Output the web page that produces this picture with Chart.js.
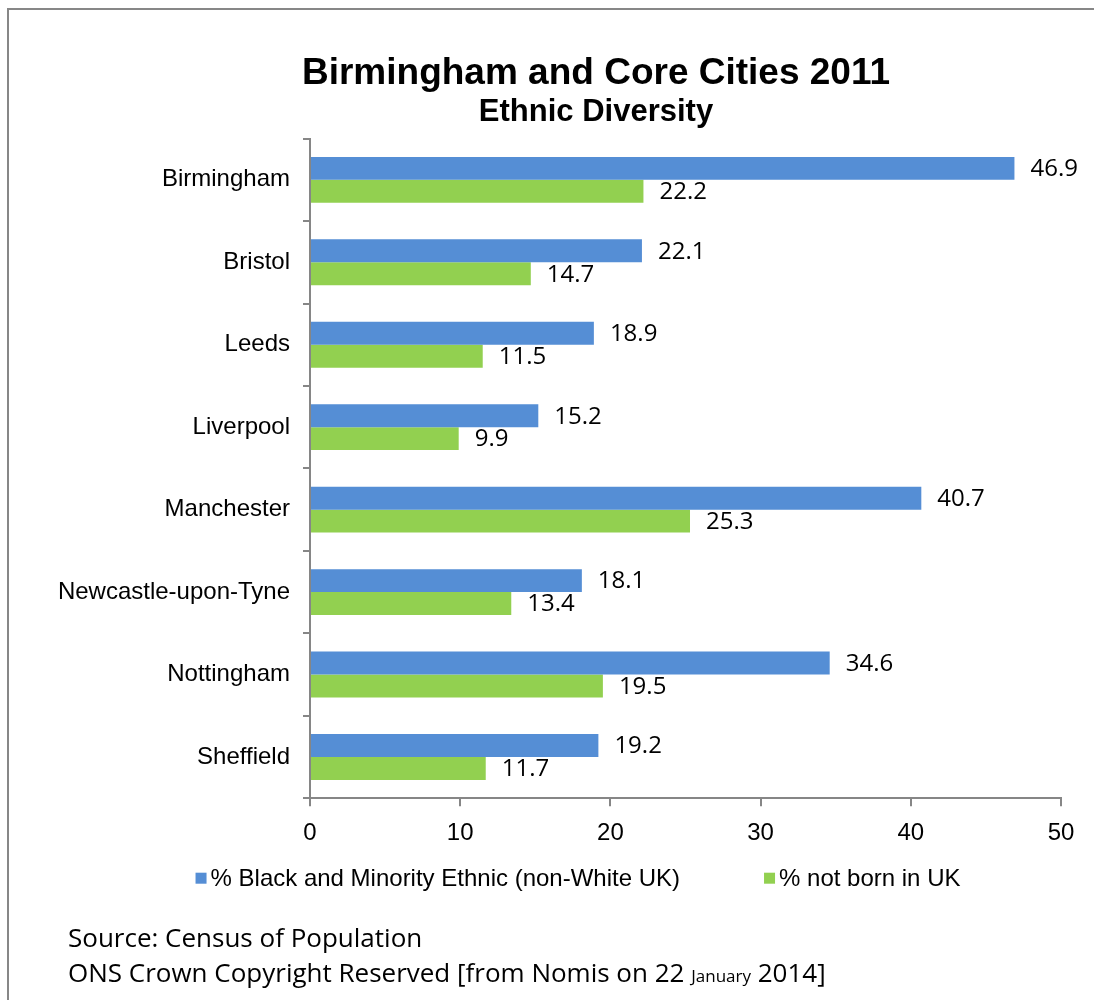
<!DOCTYPE html>
<html>
<head>
<meta charset="utf-8">
<script src="https://cdn.jsdelivr.net/npm/chart.js@4.4.1/dist/chart.umd.min.js"></script>
<style>
  html, body { margin: 0; padding: 0; background: #fff; }
  body { width: 1094px; height: 1000px; position: relative; overflow: hidden; }
  #frame { position: absolute; left: 7px; top: 8px; width: 1200px; height: 1200px;
           border-top: 2px solid #878787; border-left: 2px solid #878787; }
  #wrap { position: absolute; left: 0; top: 0; width: 1094px; height: 1000px; }
  .src { position: absolute; left: 68px; font-family: "Open Sans", "Noto Sans", sans-serif;
         font-size: 26px; color: #000; white-space: nowrap; line-height: 30px; }
  .src small { font-size: 17px; }
</style>
</head>
<body>
<div id="frame"></div>
<div id="wrap"><canvas id="c" width="1094" height="1000"></canvas></div>
<div class="src" style="top:922px;">Source: Census of Population</div>
<div class="src" style="top:957px;">ONS Crown Copyright Reserved [from Nomis on 22 <small>January</small> 2014]</div>
<script>
const categories = ["Birmingham", "Bristol", "Leeds", "Liverpool", "Manchester", "Newcastle-upon-Tyne", "Nottingham", "Sheffield"];
const bmeValues = [46.9, 22.1, 18.9, 15.2, 40.7, 18.1, 34.6, 19.2];
const notBornUKValues = [22.2, 14.7, 11.5, 9.9, 25.3, 13.4, 19.5, 11.7];
const seriesLabels = ["% Black and Minority Ethnic (non-White UK)", "% not born in UK"];
const xTicks = [0, 10, 20, 30, 40, 50];
const titleText = "Birmingham and Core Cities 2011";
const subtitleText = "Ethnic Diversity";

const AXIS = '#868686';
const SANS = '"Liberation Sans", Arial, sans-serif';

// let long category labels extend left of the axis box (avoid clipping)
const widenLabelArea = {
  id: 'widenLabelArea',
  afterLayout(chart) {
    chart.scales.y.left = 0;
  }
};

const valueLabels = {
  id: 'valueLabels',
  afterDatasetsDraw(chart) {
    const ctx = chart.ctx;
    ctx.save();
    ctx.font = '24px "Open Sans", "Noto Sans", sans-serif';
    ctx.fillStyle = '#000';
    ctx.textAlign = 'left';
    ctx.textBaseline = 'middle';
    chart.data.datasets.forEach((ds, di) => {
      const meta = chart.getDatasetMeta(di);
      meta.data.forEach((el, i) => {
        ctx.fillText(ds.data[i].toFixed(1), el.x + 16, el.y + 1);
      });
    });
    ctx.restore();
  }
};

const customLegend = {
  id: 'customLegend',
  afterDraw(chart, args, opts) {
    const ctx = chart.ctx;
    ctx.save();
    ctx.font = '24px ' + SANS;
    ctx.textBaseline = 'middle';
    ctx.textAlign = 'left';
    const items = chart.data.datasets.map(ds => ({ text: ds.label, color: ds.backgroundColor }));
    const widths = items.map(it => opts.box + opts.gap + ctx.measureText(it.text).width);
    const total = widths.reduce((a, b) => a + b, 0) + opts.spacing * (items.length - 1);
    let x = opts.centerX - total / 2;
    const y = chart.chartArea.bottom + opts.offsetY;
    items.forEach((it, i) => {
      ctx.fillStyle = it.color;
      ctx.fillRect(x, y - opts.box / 2, opts.box, opts.box);
      ctx.fillStyle = '#000';
      ctx.fillText(it.text, x + opts.box + opts.gap, y + 1);
      x += widths[i] + opts.spacing;
    });
    ctx.restore();
  }
};

new Chart(document.getElementById('c'), {
  type: 'bar',
  data: {
    labels: categories,
    datasets: [
      { label: seriesLabels[0], data: bmeValues, backgroundColor: '#558ED5' },
      { label: seriesLabels[1], data: notBornUKValues, backgroundColor: '#92D050' }
    ]
  },
  options: {
    indexAxis: 'y',
    responsive: false,
    animation: false,
    devicePixelRatio: 1,
    layout: { padding: { left: 131, right: 33, top: 20, bottom: 139 } },
    datasets: { bar: { categoryPercentage: 0.556, barPercentage: 1.0 } },
    scales: {
      x: {
        min: 0, max: 50,
        afterBuildTicks(scale) { scale.ticks = xTicks.map(v => ({ value: v })); },
        grid: { drawOnChartArea: false, drawTicks: true, tickLength: 8, color: AXIS, lineWidth: 2 },
        border: { display: true, color: AXIS, width: 2 },
        ticks: { color: '#000', font: { family: SANS, size: 24 }, padding: 13 }
      },
      y: {
        afterFit(scale) { scale.width = 179; },
        grid: { drawOnChartArea: false, drawTicks: true, tickLength: 7, color: AXIS, lineWidth: 2, offset: true },
        border: { display: true, color: AXIS, width: 2 },
        ticks: { color: '#000', font: { family: SANS, size: 24 }, padding: 13 }
      }
    },
    plugins: {
      legend: { display: false },
      tooltip: { enabled: false },
      title: {
        display: true, text: titleText, color: '#000',
        font: { family: SANS, size: 37, weight: 'bold' },
        padding: { top: 32, bottom: -3 }
      },
      subtitle: {
        display: true, text: subtitleText, color: '#000',
        font: { family: SANS, size: 31, weight: 'bold' },
        padding: { top: 0, bottom: 8 }
      },
      customLegend: { box: 11, gap: 4, spacing: 84, centerX: 578, offsetY: 80 }
    }
  },
  plugins: [widenLabelArea, valueLabels, customLegend]
});
</script>
</body>
</html>
